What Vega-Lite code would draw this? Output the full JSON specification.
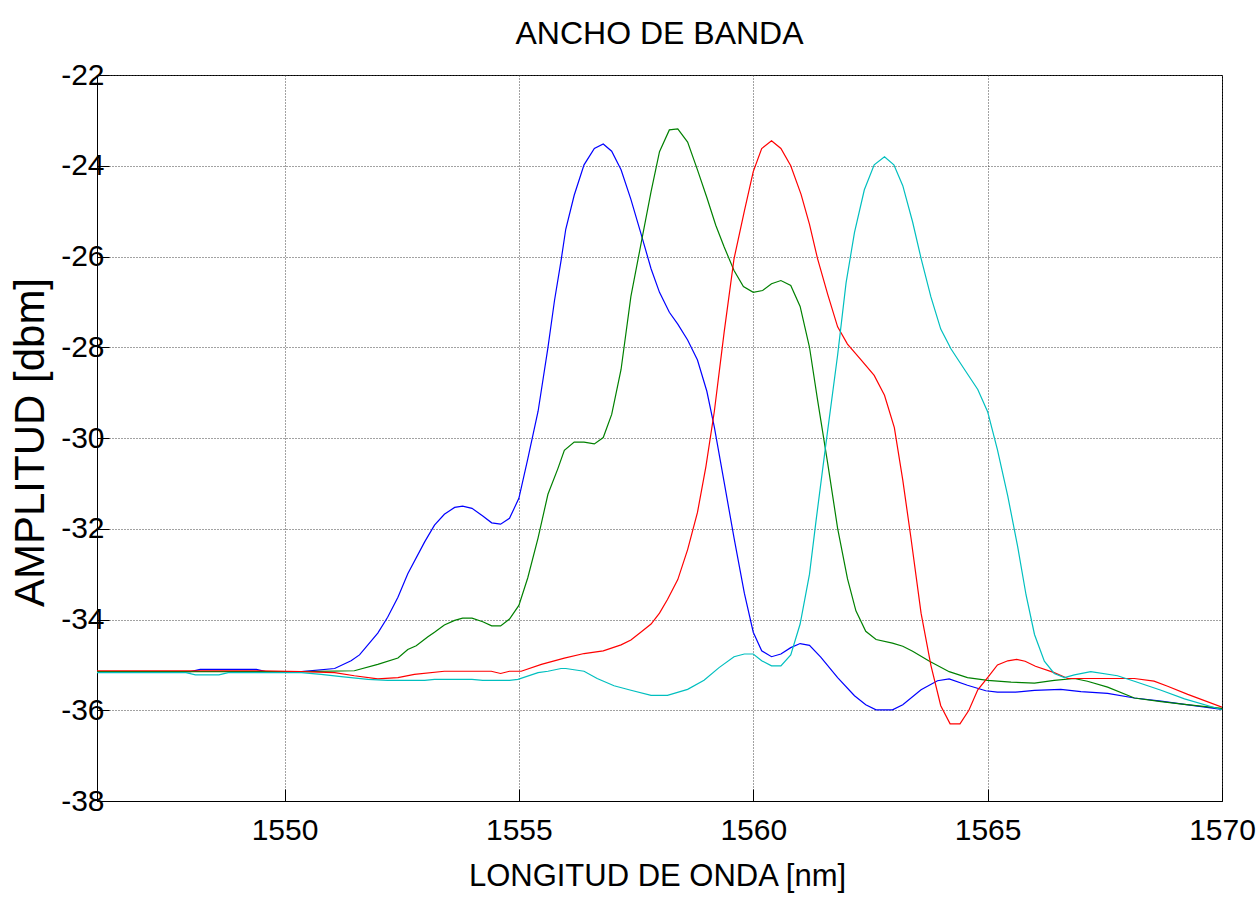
{
"$schema": "https://vega.github.io/schema/vega-lite/v6.json",
"width": 1125, "height": 726,
"autosize": {"type": "none"},
"padding": {"left": 97, "top": 75, "right": 34, "bottom": 96},
"background": "white",
"title": {"text": "ANCHO DE BANDA", "fontSize": 32, "font": "Liberation Sans, Arial, sans-serif", "fontWeight": "normal", "color": "black", "offset": 17, "dy": 33, "baseline": "alphabetic", "anchor": "middle"},
"config": {"view": {"stroke": "black", "strokeWidth": 1}},
"data": {"values": [
{"s":"A","x":1546,"y":-35.15},{"s":"A","x":1548.0,"y":-35.15},{"s":"A","x":1548.2,"y":-35.1},{"s":"A","x":1549.4,"y":-35.1},{"s":"A","x":1549.6,"y":-35.15},{"s":"A","x":1550.36,"y":-35.15},{"s":"A","x":1551.07,"y":-35.08},{"s":"A","x":1551.42,"y":-34.91},{"s":"A","x":1551.6,"y":-34.78},{"s":"A","x":1551.99,"y":-34.3},{"s":"A","x":1552.2,"y":-33.95},{"s":"A","x":1552.42,"y":-33.51},{"s":"A","x":1552.63,"y":-32.99},{"s":"A","x":1552.99,"y":-32.29},{"s":"A","x":1553.2,"y":-31.92},{"s":"A","x":1553.41,"y":-31.68},{"s":"A","x":1553.63,"y":-31.53},{"s":"A","x":1553.8,"y":-31.5},{"s":"A","x":1554.0,"y":-31.55},{"s":"A","x":1554.23,"y":-31.72},{"s":"A","x":1554.42,"y":-31.87},{"s":"A","x":1554.61,"y":-31.9},{"s":"A","x":1554.8,"y":-31.77},{"s":"A","x":1555.0,"y":-31.33},{"s":"A","x":1555.19,"y":-30.46},{"s":"A","x":1555.41,"y":-29.41},{"s":"A","x":1555.62,"y":-28.01},{"s":"A","x":1555.76,"y":-26.97},{"s":"A","x":1555.9,"y":-26.09},{"s":"A","x":1556.0,"y":-25.4},{"s":"A","x":1556.18,"y":-24.65},{"s":"A","x":1556.39,"y":-23.98},{"s":"A","x":1556.61,"y":-23.62},{"s":"A","x":1556.8,"y":-23.52},{"s":"A","x":1556.98,"y":-23.68},{"s":"A","x":1557.18,"y":-24.09},{"s":"A","x":1557.39,"y":-24.74},{"s":"A","x":1557.6,"y":-25.48},{"s":"A","x":1557.82,"y":-26.27},{"s":"A","x":1558.0,"y":-26.79},{"s":"A","x":1558.21,"y":-27.23},{"s":"A","x":1558.39,"y":-27.49},{"s":"A","x":1558.6,"y":-27.84},{"s":"A","x":1558.81,"y":-28.28},{"s":"A","x":1559.01,"y":-28.97},{"s":"A","x":1559.17,"y":-29.76},{"s":"A","x":1559.38,"y":-30.98},{"s":"A","x":1559.59,"y":-32.2},{"s":"A","x":1559.81,"y":-33.42},{"s":"A","x":1560.0,"y":-34.28},{"s":"A","x":1560.18,"y":-34.69},{"s":"A","x":1560.39,"y":-34.82},{"s":"A","x":1560.59,"y":-34.76},{"s":"A","x":1560.8,"y":-34.62},{"s":"A","x":1561.0,"y":-34.53},{"s":"A","x":1561.2,"y":-34.57},{"s":"A","x":1561.44,"y":-34.83},{"s":"A","x":1561.8,"y":-35.28},{"s":"A","x":1562.16,"y":-35.68},{"s":"A","x":1562.4,"y":-35.88},{"s":"A","x":1562.62,"y":-35.99},{"s":"A","x":1562.97,"y":-35.99},{"s":"A","x":1563.19,"y":-35.88},{"s":"A","x":1563.58,"y":-35.55},{"s":"A","x":1563.93,"y":-35.35},{"s":"A","x":1564.18,"y":-35.31},{"s":"A","x":1564.57,"y":-35.45},{"s":"A","x":1564.96,"y":-35.57},{"s":"A","x":1565.21,"y":-35.6},{"s":"A","x":1565.6,"y":-35.6},{"s":"A","x":1566.0,"y":-35.56},{"s":"A","x":1566.56,"y":-35.54},{"s":"A","x":1566.99,"y":-35.59},{"s":"A","x":1567.56,"y":-35.63},{"s":"A","x":1568.13,"y":-35.73},{"s":"A","x":1568.7,"y":-35.8},{"s":"A","x":1569.2,"y":-35.87},{"s":"A","x":1570.0,"y":-35.98},
{"s":"B","x":1546,"y":-35.15},{"s":"B","x":1550.36,"y":-35.15},{"s":"B","x":1551.49,"y":-35.13},{"s":"B","x":1551.99,"y":-34.99},{"s":"B","x":1552.42,"y":-34.85},{"s":"B","x":1552.63,"y":-34.66},{"s":"B","x":1552.81,"y":-34.58},{"s":"B","x":1553.06,"y":-34.38},{"s":"B","x":1553.2,"y":-34.28},{"s":"B","x":1553.41,"y":-34.12},{"s":"B","x":1553.63,"y":-34.02},{"s":"B","x":1553.8,"y":-33.97},{"s":"B","x":1554.0,"y":-33.97},{"s":"B","x":1554.23,"y":-34.05},{"s":"B","x":1554.42,"y":-34.14},{"s":"B","x":1554.61,"y":-34.14},{"s":"B","x":1554.8,"y":-33.99},{"s":"B","x":1555.0,"y":-33.69},{"s":"B","x":1555.19,"y":-33.08},{"s":"B","x":1555.41,"y":-32.2},{"s":"B","x":1555.62,"y":-31.24},{"s":"B","x":1555.83,"y":-30.68},{"s":"B","x":1555.97,"y":-30.27},{"s":"B","x":1556.18,"y":-30.09},{"s":"B","x":1556.39,"y":-30.09},{"s":"B","x":1556.61,"y":-30.13},{"s":"B","x":1556.8,"y":-29.99},{"s":"B","x":1556.98,"y":-29.48},{"s":"B","x":1557.18,"y":-28.49},{"s":"B","x":1557.39,"y":-26.88},{"s":"B","x":1557.6,"y":-25.75},{"s":"B","x":1557.82,"y":-24.57},{"s":"B","x":1558.0,"y":-23.69},{"s":"B","x":1558.21,"y":-23.21},{"s":"B","x":1558.39,"y":-23.19},{"s":"B","x":1558.6,"y":-23.48},{"s":"B","x":1558.81,"y":-24.09},{"s":"B","x":1559.01,"y":-24.7},{"s":"B","x":1559.2,"y":-25.31},{"s":"B","x":1559.38,"y":-25.79},{"s":"B","x":1559.59,"y":-26.31},{"s":"B","x":1559.79,"y":-26.66},{"s":"B","x":1560.0,"y":-26.79},{"s":"B","x":1560.2,"y":-26.75},{"s":"B","x":1560.39,"y":-26.6},{"s":"B","x":1560.59,"y":-26.53},{"s":"B","x":1560.8,"y":-26.64},{"s":"B","x":1561.0,"y":-27.1},{"s":"B","x":1561.2,"y":-28.0},{"s":"B","x":1561.37,"y":-29.15},{"s":"B","x":1561.59,"y":-30.57},{"s":"B","x":1561.8,"y":-31.99},{"s":"B","x":1562.01,"y":-33.1},{"s":"B","x":1562.19,"y":-33.81},{"s":"B","x":1562.4,"y":-34.26},{"s":"B","x":1562.62,"y":-34.44},{"s":"B","x":1562.97,"y":-34.52},{"s":"B","x":1563.19,"y":-34.59},{"s":"B","x":1563.4,"y":-34.7},{"s":"B","x":1563.76,"y":-34.92},{"s":"B","x":1564.18,"y":-35.15},{"s":"B","x":1564.57,"y":-35.28},{"s":"B","x":1565.0,"y":-35.34},{"s":"B","x":1565.5,"y":-35.38},{"s":"B","x":1566.0,"y":-35.4},{"s":"B","x":1566.42,"y":-35.34},{"s":"B","x":1566.85,"y":-35.3},{"s":"B","x":1567.13,"y":-35.36},{"s":"B","x":1567.56,"y":-35.49},{"s":"B","x":1568.13,"y":-35.73},{"s":"B","x":1568.7,"y":-35.81},{"s":"B","x":1569.2,"y":-35.87},{"s":"B","x":1570.0,"y":-35.96},
{"s":"C","x":1546,"y":-35.13},{"s":"C","x":1549.5,"y":-35.13},{"s":"C","x":1550.36,"y":-35.15},{"s":"C","x":1551.07,"y":-35.17},{"s":"C","x":1551.49,"y":-35.24},{"s":"C","x":1551.99,"y":-35.31},{"s":"C","x":1552.42,"y":-35.28},{"s":"C","x":1552.77,"y":-35.21},{"s":"C","x":1553.41,"y":-35.14},{"s":"C","x":1554.41,"y":-35.14},{"s":"C","x":1554.61,"y":-35.19},{"s":"C","x":1554.8,"y":-35.14},{"s":"C","x":1555.05,"y":-35.14},{"s":"C","x":1555.48,"y":-34.99},{"s":"C","x":1555.97,"y":-34.85},{"s":"C","x":1556.39,"y":-34.75},{"s":"C","x":1556.8,"y":-34.69},{"s":"C","x":1557.18,"y":-34.56},{"s":"C","x":1557.39,"y":-34.45},{"s":"C","x":1557.6,"y":-34.28},{"s":"C","x":1557.82,"y":-34.1},{"s":"C","x":1558.0,"y":-33.86},{"s":"C","x":1558.17,"y":-33.56},{"s":"C","x":1558.39,"y":-33.12},{"s":"C","x":1558.6,"y":-32.46},{"s":"C","x":1558.81,"y":-31.64},{"s":"C","x":1558.99,"y":-30.63},{"s":"C","x":1559.17,"y":-29.41},{"s":"C","x":1559.38,"y":-27.66},{"s":"C","x":1559.59,"y":-26.05},{"s":"C","x":1559.81,"y":-25.0},{"s":"C","x":1560.0,"y":-24.13},{"s":"C","x":1560.18,"y":-23.62},{"s":"C","x":1560.39,"y":-23.45},{"s":"C","x":1560.59,"y":-23.62},{"s":"C","x":1560.8,"y":-24.0},{"s":"C","x":1561.02,"y":-24.63},{"s":"C","x":1561.2,"y":-25.29},{"s":"C","x":1561.37,"y":-26.04},{"s":"C","x":1561.59,"y":-26.84},{"s":"C","x":1561.8,"y":-27.55},{"s":"C","x":1562.01,"y":-27.93},{"s":"C","x":1562.3,"y":-28.28},{"s":"C","x":1562.58,"y":-28.62},{"s":"C","x":1562.8,"y":-29.06},{"s":"C","x":1563.01,"y":-29.77},{"s":"C","x":1563.19,"y":-30.93},{"s":"C","x":1563.36,"y":-32.17},{"s":"C","x":1563.58,"y":-33.86},{"s":"C","x":1563.79,"y":-35.01},{"s":"C","x":1564.0,"y":-35.9},{"s":"C","x":1564.2,"y":-36.3},{"s":"C","x":1564.41,"y":-36.3},{"s":"C","x":1564.6,"y":-36.0},{"s":"C","x":1564.79,"y":-35.55},{"s":"C","x":1565.0,"y":-35.28},{"s":"C","x":1565.21,"y":-35.0},{"s":"C","x":1565.43,"y":-34.91},{"s":"C","x":1565.62,"y":-34.88},{"s":"C","x":1565.8,"y":-34.92},{"s":"C","x":1566.02,"y":-35.03},{"s":"C","x":1566.42,"y":-35.17},{"s":"C","x":1566.71,"y":-35.3},{"s":"C","x":1567.13,"y":-35.3},{"s":"C","x":1568.13,"y":-35.3},{"s":"C","x":1568.55,"y":-35.36},{"s":"C","x":1568.84,"y":-35.47},{"s":"C","x":1569.27,"y":-35.65},{"s":"C","x":1570.0,"y":-35.93},
{"s":"D","x":1546,"y":-35.17},{"s":"D","x":1547.9,"y":-35.17},{"s":"D","x":1548.1,"y":-35.22},{"s":"D","x":1548.6,"y":-35.22},{"s":"D","x":1548.8,"y":-35.17},{"s":"D","x":1550.36,"y":-35.17},{"s":"D","x":1550.78,"y":-35.21},{"s":"D","x":1551.21,"y":-35.26},{"s":"D","x":1551.78,"y":-35.32},{"s":"D","x":1552.2,"y":-35.34},{"s":"D","x":1552.99,"y":-35.34},{"s":"D","x":1553.2,"y":-35.32},{"s":"D","x":1554.0,"y":-35.32},{"s":"D","x":1554.23,"y":-35.34},{"s":"D","x":1554.8,"y":-35.34},{"s":"D","x":1554.98,"y":-35.32},{"s":"D","x":1555.41,"y":-35.17},{"s":"D","x":1555.62,"y":-35.14},{"s":"D","x":1555.9,"y":-35.08},{"s":"D","x":1556.0,"y":-35.08},{"s":"D","x":1556.39,"y":-35.14},{"s":"D","x":1556.67,"y":-35.3},{"s":"D","x":1557.03,"y":-35.46},{"s":"D","x":1557.39,"y":-35.56},{"s":"D","x":1557.82,"y":-35.67},{"s":"D","x":1558.17,"y":-35.67},{"s":"D","x":1558.6,"y":-35.54},{"s":"D","x":1558.95,"y":-35.34},{"s":"D","x":1559.27,"y":-35.06},{"s":"D","x":1559.59,"y":-34.82},{"s":"D","x":1559.81,"y":-34.76},{"s":"D","x":1560.0,"y":-34.76},{"s":"D","x":1560.18,"y":-34.91},{"s":"D","x":1560.39,"y":-35.02},{"s":"D","x":1560.59,"y":-35.02},{"s":"D","x":1560.8,"y":-34.78},{"s":"D","x":1561.0,"y":-34.1},{"s":"D","x":1561.2,"y":-33.0},{"s":"D","x":1561.34,"y":-31.82},{"s":"D","x":1561.55,"y":-30.13},{"s":"D","x":1561.8,"y":-28.17},{"s":"D","x":1561.98,"y":-26.58},{"s":"D","x":1562.16,"y":-25.47},{"s":"D","x":1562.37,"y":-24.53},{"s":"D","x":1562.58,"y":-23.98},{"s":"D","x":1562.8,"y":-23.8},{"s":"D","x":1563.0,"y":-23.98},{"s":"D","x":1563.19,"y":-24.44},{"s":"D","x":1563.4,"y":-25.24},{"s":"D","x":1563.58,"y":-26.04},{"s":"D","x":1563.79,"y":-26.89},{"s":"D","x":1564.0,"y":-27.6},{"s":"D","x":1564.22,"y":-28.04},{"s":"D","x":1564.5,"y":-28.48},{"s":"D","x":1564.79,"y":-28.93},{"s":"D","x":1565.0,"y":-29.42},{"s":"D","x":1565.21,"y":-30.26},{"s":"D","x":1565.43,"y":-31.28},{"s":"D","x":1565.64,"y":-32.39},{"s":"D","x":1565.82,"y":-33.46},{"s":"D","x":1566.0,"y":-34.33},{"s":"D","x":1566.21,"y":-34.92},{"s":"D","x":1566.42,"y":-35.19},{"s":"D","x":1566.64,"y":-35.28},{"s":"D","x":1566.85,"y":-35.22},{"s":"D","x":1567.2,"y":-35.15},{"s":"D","x":1567.77,"y":-35.24},{"s":"D","x":1568.13,"y":-35.36},{"s":"D","x":1568.7,"y":-35.56},{"s":"D","x":1569.2,"y":-35.75},{"s":"D","x":1570.0,"y":-35.99}
]},
"mark": {"type": "line", "strokeWidth": 1.2, "interpolate": "linear", "clip": true},
"encoding": {
  "x": {"field": "x", "type": "quantitative",
    "scale": {"domain": [1546, 1570], "nice": false, "zero": false},
    "axis": {"values": [1550, 1555, 1560, 1565, 1570], "title": "LONGITUD DE ONDA [nm]",
      "grid": true, "gridColor": "#444", "gridDash": [1, 2], "gridWidth": 1,
      "domainColor": "black", "tickColor": "black", "tickSize": -12, "labelFlush": false, "labelOverlap": false,
      "labelFont": "Liberation Sans, Arial, sans-serif", "labelFontSize": 30, "labelColor": "black", "labelPadding": 26,
      "labelExpr": "datum.value + ''",
      "titleFont": "Liberation Sans, Arial, sans-serif", "titleFontSize": 31, "titleFontWeight": "normal", "titleColor": "black",
      "titleX": 560, "titleY": 75, "titleBaseline": "middle", "titleAlign": "center"}},
  "y": {"field": "y", "type": "quantitative",
    "scale": {"domain": [-38, -22], "nice": false, "zero": false},
    "axis": {"values": [-38, -36, -34, -32, -30, -28, -26, -24, -22], "title": "AMPLITUD [dbm]",
      "grid": true, "gridColor": "#444", "gridDash": [1, 2], "gridWidth": 1,
      "domainColor": "black", "tickColor": "black", "tickSize": -12, "labelFlush": false, "labelOverlap": false,
      "labelFont": "Liberation Sans, Arial, sans-serif", "labelFontSize": 30, "labelColor": "black", "labelPadding": 5,
      "labelExpr": "datum.value + ''",
      "titleFont": "Liberation Sans, Arial, sans-serif", "titleFontSize": 42, "titleFontWeight": "normal", "titleColor": "black",
      "titleX": -67, "titleY": 367, "titleBaseline": "middle", "titleAlign": "center", "titleAngle": 270}},
  "color": {"field": "s", "type": "nominal", "scale": {"domain": ["A", "B", "C", "D"], "range": ["#0000FF", "#008000", "#FF0000", "#00BFBF"]}, "legend": null}
}
}
